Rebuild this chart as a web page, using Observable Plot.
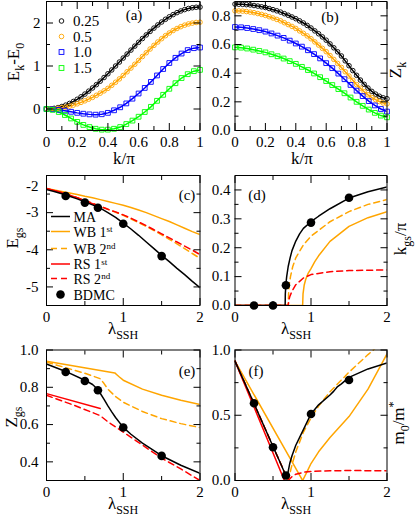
<!DOCTYPE html>
<html><head><meta charset="utf-8">
<script src="https://cdn.jsdelivr.net/npm/d3@7"></script>
<script src="https://cdn.jsdelivr.net/npm/@observablehq/plot@0.6"></script>
<style>
html,body{margin:0;padding:0;background:#fff;}
#root{position:relative;width:415px;height:518px;overflow:hidden;background:#fff;}
#root svg{position:absolute;}
#root svg text{font-family:"Liberation Serif","Times New Roman",serif;}
</style></head><body><div id="root"></div>
<script>
// ---------- data: panel (a) and (b) ----------
const kC = [0,0.025,0.05,0.075,0.1,0.125,0.15,0.175,0.2,0.225,0.25,0.275,0.3,0.325,0.35,0.375,0.4,0.425,0.45,0.475,0.5,0.525,0.55,0.575,0.6,0.625,0.65,0.675,0.7,0.725,0.75,0.775,0.8,0.825,0.85,0.875,0.9,0.925,0.95,0.975,1];
const kS = [0,0.04,0.08,0.12,0.16,0.2,0.24,0.28,0.32,0.36,0.4,0.44,0.48,0.52,0.56,0.6,0.64,0.68,0.72,0.76,0.8,0.84,0.88,0.92,0.96,1];
const aE025 = [0,0.004,0.015,0.033,0.058,0.090,0.129,0.175,0.226,0.284,0.347,0.415,0.489,0.566,0.647,0.732,0.819,0.908,1.000,1.092,1.185,1.278,1.370,1.462,1.551,1.638,1.723,1.804,1.881,1.955,2.023,2.086,2.144,2.195,2.241,2.280,2.312,2.337,2.355,2.366,2.370];
const aE05 = [0,0.002,0.007,0.016,0.029,0.045,0.065,0.090,0.120,0.154,0.190,0.229,0.270,0.318,0.368,0.422,0.480,0.550,0.622,0.700,0.780,0.865,0.952,1.040,1.130,1.220,1.308,1.395,1.480,1.558,1.635,1.705,1.768,1.825,1.872,1.915,1.950,1.978,1.998,2.012,2.018];
const aE10 = [0,-0.005,-0.02,-0.04,-0.065,-0.09,-0.11,-0.125,-0.132,-0.122,-0.09,-0.03,0.04,0.13,0.24,0.36,0.49,0.63,0.78,0.93,1.07,1.19,1.29,1.37,1.415,1.43];
const aE15 = [0,-0.02,-0.07,-0.14,-0.22,-0.30,-0.37,-0.42,-0.46,-0.48,-0.48,-0.46,-0.42,-0.35,-0.27,-0.18,-0.07,0.05,0.19,0.33,0.47,0.60,0.72,0.81,0.88,0.91];
const bZ025 = [0.882,0.881,0.880,0.878,0.876,0.872,0.868,0.863,0.858,0.851,0.843,0.835,0.826,0.815,0.804,0.792,0.780,0.765,0.750,0.733,0.715,0.695,0.675,0.653,0.630,0.604,0.577,0.549,0.520,0.486,0.452,0.418,0.385,0.352,0.322,0.296,0.273,0.254,0.239,0.228,0.222];
const bZ05 = [0.835,0.834,0.833,0.830,0.826,0.822,0.816,0.810,0.803,0.794,0.785,0.775,0.765,0.752,0.739,0.726,0.712,0.695,0.678,0.660,0.640,0.618,0.596,0.573,0.550,0.523,0.496,0.468,0.440,0.410,0.380,0.350,0.320,0.295,0.270,0.249,0.230,0.215,0.202,0.192,0.186];
const bZ10 = [0.722,0.720,0.715,0.708,0.700,0.690,0.677,0.662,0.646,0.627,0.607,0.585,0.560,0.533,0.503,0.470,0.435,0.397,0.358,0.318,0.278,0.240,0.205,0.175,0.150,0.132];
const bZ15 = [0.580,0.578,0.572,0.564,0.555,0.545,0.532,0.518,0.502,0.484,0.465,0.444,0.422,0.398,0.372,0.345,0.317,0.289,0.260,0.230,0.200,0.172,0.146,0.123,0.104,0.092];
const lambdaLegend = ["0.25", "0.5", "1.0", "1.5"];

// ---------- data: panels (c)-(f), x = lambda_SSH ----------
const lamB = [0.25,0.5,0.67,1.0,1.5];          // BDMC points
const lamC = [0,0.1,0.2,0.3,0.4,0.5,0.6,0.7,0.8,0.9,1.0,1.1,1.2,1.3,1.4,1.5,1.6,1.7,1.8,1.9,2.0];
const cMA  = [-2.38,-2.43,-2.49,-2.56,-2.63,-2.71,-2.79,-2.88,-3.00,-3.13,-3.28,-3.44,-3.61,-3.79,-3.97,-4.15,-4.32,-4.50,-4.67,-4.85,-5.02];
const cWB1 = [-2.35,-2.39,-2.43,-2.47,-2.51,-2.56,-2.60,-2.65,-2.70,-2.75,-2.80,-2.86,-2.93,-3.00,-3.08,-3.16,-3.24,-3.33,-3.42,-3.51,-3.59];
const cWB2 = [-2.35,-2.41,-2.47,-2.53,-2.60,-2.68,-2.75,-2.83,-2.91,-2.99,-3.07,-3.17,-3.27,-3.37,-3.48,-3.60,-3.72,-3.84,-3.97,-4.10,-4.23];
const cRS2 = [-2.35,-2.41,-2.47,-2.53,-2.60,-2.68,-2.75,-2.83,-2.91,-2.98,-3.06,-3.15,-3.25,-3.35,-3.46,-3.57,-3.68,-3.79,-3.90,-4.01,-4.13];
const lamC1 = [0,0.1,0.2,0.3,0.4,0.5,0.6,0.7];
const cRS1 = [-2.35,-2.40,-2.46,-2.53,-2.60,-2.68,-2.76,-2.85];
const cBD  = [-2.55,-2.73,-2.87,-3.30,-4.17];

const dMA_l  = [0,0.66,0.662,0.67,0.68,0.70,0.725,0.75,0.8,0.85,0.9,1.0,1.1,1.25,1.5,1.75,2.0];
const dMA    = [0,0,0.04,0.075,0.10,0.135,0.165,0.19,0.223,0.248,0.267,0.29,0.309,0.335,0.372,0.394,0.41];
const dWB2_l = [0,0.70,0.705,0.715,0.73,0.76,0.8,0.9,1.0,1.25,1.5,1.75,2.0];
const dWB2   = [0,0,0.04,0.075,0.10,0.135,0.165,0.21,0.24,0.29,0.325,0.35,0.367];
const dWB1_l = [0,0.89,0.895,0.91,0.93,0.96,1.0,1.05,1.1,1.25,1.5,1.75,2.0];
const dWB1   = [0,0,0.04,0.07,0.09,0.11,0.128,0.152,0.172,0.222,0.274,0.304,0.325];
const dRS2_l = [0,0.70,0.71,0.72,0.75,0.8,0.9,1.0,1.25,1.5,2.0];
const dRS2   = [0,0,0.02,0.03,0.05,0.072,0.095,0.107,0.117,0.121,0.123];
const dRS1_l = [0,0.7];
const dRS1   = [0,0];
const dBD    = [0,0,0.07,0.287,0.373];

const eMA_l  = [0,0.25,0.5,0.6,0.67,0.7,0.75,0.8,0.85,0.9,1.0,1.1,1.25,1.5,1.75,2.0];
const eMA    = [0.925,0.885,0.838,0.815,0.788,0.768,0.735,0.70,0.668,0.638,0.585,0.548,0.50,0.433,0.382,0.338];
const eWB1_l = [0,0.89,0.92,0.95,1.0,1.25,1.5,1.75,2.0];
const eWB1   = [0.94,0.877,0.866,0.855,0.838,0.79,0.757,0.73,0.708];
const eWB2_l = [0,0.25,0.5,0.7,0.75,0.8,0.9,1.0,1.25,1.5,1.75,2.0];
const eWB2   = [0.935,0.905,0.875,0.846,0.82,0.79,0.75,0.72,0.67,0.632,0.605,0.584];
const eRS1_l = [0,0.7];
const eRS1   = [0.766,0.686];
const eRS2_l = [0,0.35,0.7,0.8,1.0,1.25,1.5,1.75,2.0];
const eRS2   = [0.757,0.705,0.648,0.615,0.56,0.49,0.42,0.362,0.30];
const eBD    = [0.882,0.834,0.784,0.584,0.432];

const fMA_l  = [0,0.25,0.5,0.6,0.66,0.68,0.7,0.72,0.75,0.8,0.9,1.0,1.1,1.25,1.3,1.35,1.4,1.5,1.75,2.0];
const fMA    = [0.915,0.59,0.26,0.13,0.05,0.015,0.07,0.13,0.19,0.27,0.39,0.51,0.58,0.655,0.685,0.72,0.74,0.79,0.855,0.9];
const fRS1_l = [0,0.65];
const fRS1   = [0.915,0.0];
const fRS2_l = [0,0.7,0.75,0.8,0.9,1.0,1.25,1.5,2.0];
const fRS2   = [0.915,0.0,0.03,0.048,0.063,0.07,0.075,0.076,0.075];
const fWB1_l = [0,0.89,0.95,1.0,1.1,1.25,1.5,1.75,2.0];
const fWB1   = [0.915,0.0,0.07,0.13,0.22,0.33,0.49,0.70,0.97];
const fWB2_l = [0,0.7,0.72,0.75,0.8,0.9,1.0,1.1,1.25,1.5,1.75,1.82,1.9];
const fWB2   = [0.915,0.0,0.05,0.12,0.22,0.37,0.48,0.57,0.68,0.83,0.965,1.0,1.04];
const fBD    = [0.592,0.255,0.038,0.51,0.77];

// ---------- styling ----------
const FONT = '"Liberation Serif", "Times New Roman", serif';
const ORANGE = "#ffa500", RED = "#ff0000", BLUE = "#0000ff", GREEN = "#00ff00";
const DASH = "6,4";
const TICKFS = 15;
const root = document.getElementById("root");

function pts(xs, ys) { return xs.map((x, i) => ({x, y: ys[i]})); }
function ln(xs, ys, stroke, dash) {
  return Plot.line(pts(xs, ys), {x: "x", y: "y", stroke, strokeWidth: 1.5, strokeDasharray: dash, clip: true});
}
function bdmc(ys) { return Plot.dot(pts(lamB, ys), {x: "x", y: "y", r: 4.3, fill: "black", stroke: "none"}); }

function panel(o) {
  const mL = o.fx0 - o.left, mR = o.left + o.width - o.fx1;
  const mT = o.fy0 - o.top, mB = o.top + o.height - o.fy1;
  const ticks = [];
  for (const a of ["bottom", "top"]) {
    ticks.push(Plot.axisX({anchor: a, ticks: o.xMaj, tickSize: -7, fill: "none", label: null}));
    ticks.push(Plot.axisX({anchor: a, ticks: o.xMin, tickSize: -4, fill: "none", label: null}));
  }
  for (const a of ["left", "right"]) {
    ticks.push(Plot.axisY({anchor: a, ticks: o.yMaj, tickSize: -7, fill: "none", label: null}));
    ticks.push(Plot.axisY({anchor: a, ticks: o.yMin, tickSize: -4, fill: "none", label: null}));
  }
  const labs = [
    Plot.axisX({anchor: "bottom", ticks: o.xMaj, tickSize: 0, tickPadding: 6, tickFormat: o.xFmt, label: null, fontSize: TICKFS, fontFamily: FONT, fontVariant: "normal"}),
    Plot.axisY({anchor: "left", ticks: o.yLab || o.yMaj, tickSize: 0, tickPadding: o.yPad, tickFormat: o.yFmt, label: null, fontSize: TICKFS, fontFamily: FONT, fontVariant: "normal"})
  ];
  if (o.extraY) labs.push(o.extraY);
  const svg = Plot.plot({
    width: o.width, height: o.height,
    marginLeft: mL, marginRight: mR, marginTop: mT, marginBottom: mB,
    x: {domain: o.xDom}, y: {domain: o.yDom},
    style: {fontSize: TICKFS + "px", background: "transparent", overflow: "visible", color: "black"},
    marks: [...o.marks, Plot.frame({stroke: "black", strokeWidth: 1}), ...ticks, ...labs]
  });
  svg.setAttribute("font-family", FONT);
  svg.style.fontFamily = FONT;
  svg.querySelectorAll("text, g").forEach(el => {
    el.setAttribute("font-family", FONT);
    el.style.fontFamily = FONT;
    el.style.fontVariant = "normal";
  });
  svg.style.left = o.left + "px";
  svg.style.top = o.top + "px";
  root.appendChild(svg);
}

const fmtK = d => (d === 0 ? "0" : d === 1 ? "1" : d.toFixed(1));
const fmt1 = d => d.toFixed(1);
const fmtI = d => String(d);
const L = {left: 0, width: 205, fx0: 46, fx1: 199.5};
const R = {left: 205, width: 210, fx0: 234.5, fx1: 386.5};
const R1 = {top: 0, height: 170, fy0: 1, fy1: 130};
const R2 = {top: 170, height: 175, fy0: 175, fy1: 305};
const R3 = {top: 345, height: 173, fy0: 349.5, fy1: 480};
const kTicks = {xDom: [0, 1], xMaj: [0, 0.2, 0.4, 0.6, 0.8, 1], xMin: [0.1, 0.3, 0.5, 0.7, 0.9], xFmt: fmtK};
const lTicks = {xDom: [0, 2], xMaj: [0, 1, 2], xMin: [0.5, 1.5], xFmt: fmtI};

// (a)
panel({...L, ...R1, ...kTicks, yDom: [-0.5, 2.5], yMaj: [0, 1, 2], yMin: [0.5, 1.5], yFmt: fmtI, yPad: 6,
  marks: [
    ln(kC, aE025, "black"), ln(kC, aE05, ORANGE), ln(kS, aE10, BLUE), ln(kS, aE15, GREEN),
    Plot.dot(pts(kC, aE025), {x: "x", y: "y", r: 2.3, stroke: "black", strokeWidth: 0.9}),
    Plot.dot(pts(kC, aE05), {x: "x", y: "y", r: 2.3, stroke: ORANGE, strokeWidth: 0.9}),
    Plot.dot(pts(kS, aE10), {x: "x", y: "y", r: 2.7, symbol: "square", stroke: BLUE, strokeWidth: 0.9}),
    Plot.dot(pts(kS, aE15), {x: "x", y: "y", r: 2.7, symbol: "square", stroke: GREEN, strokeWidth: 0.9})
  ]});
// (b)
panel({...R, ...R1, ...kTicks, yDom: [0, 0.9], yMaj: [0, 0.2, 0.4, 0.6, 0.8], yMin: [0.1, 0.3, 0.5, 0.7], yFmt: fmt1, yPad: 4.5,
  marks: [
    ln(kC, bZ025, "black"), ln(kC, bZ05, ORANGE), ln(kS, bZ10, BLUE), ln(kS, bZ15, GREEN),
    Plot.dot(pts(kC, bZ025), {x: "x", y: "y", r: 2.3, stroke: "black", strokeWidth: 0.9}),
    Plot.dot(pts(kC, bZ05), {x: "x", y: "y", r: 2.3, stroke: ORANGE, strokeWidth: 0.9}),
    Plot.dot(pts(kS, bZ10), {x: "x", y: "y", r: 2.7, symbol: "square", stroke: BLUE, strokeWidth: 0.9}),
    Plot.dot(pts(kS, bZ15), {x: "x", y: "y", r: 2.7, symbol: "square", stroke: GREEN, strokeWidth: 0.9})
  ]});
// (c)
panel({...L, ...R2, ...lTicks, yDom: [-5.5, -2], yMaj: [-2, -3, -4, -5], yLab: [-3, -4, -5], yMin: [-2.5, -3.5, -4.5], yFmt: fmtI, yPad: 8,
  extraY: Plot.axisY({anchor: "left", ticks: [-2], tickSize: 0, tickPadding: 8, tickFormat: fmtI, label: null, fontSize: TICKFS, fontFamily: FONT, dy: 11}),
  marks: [
    ln(lamC, cWB1, ORANGE), ln(lamC, cWB2, ORANGE, DASH), ln(lamC1, cRS1, RED), ln(lamC, cRS2, RED, DASH),
    ln(lamC, cMA, "black"), bdmc(cBD)
  ]});
// (d)
panel({...R, ...R2, ...lTicks, yDom: [0, 0.45], yMaj: [0, 0.1, 0.2, 0.3, 0.4], yMin: [0.05, 0.15, 0.25, 0.35], yFmt: fmt1, yPad: 4.5,
  marks: [
    ln(dWB1_l, dWB1, ORANGE), ln(dWB2_l, dWB2, ORANGE, DASH), ln(dRS1_l, dRS1, RED), ln(dRS2_l, dRS2, RED, DASH),
    ln(dMA_l, dMA, "black"), bdmc(dBD)
  ]});
// (e)
panel({...L, ...R3, ...lTicks, yDom: [0.3, 1.0], yMaj: [0.4, 0.6, 0.8, 1.0], yMin: [0.5, 0.7, 0.9], yFmt: fmt1, yPad: 8,
  marks: [
    ln(eWB1_l, eWB1, ORANGE), ln(eWB2_l, eWB2, ORANGE, DASH), ln(eRS1_l, eRS1, RED), ln(eRS2_l, eRS2, RED, DASH),
    ln(eMA_l, eMA, "black"), bdmc(eBD)
  ]});
// (f)
panel({...R, ...R3, ...lTicks, yDom: [0, 1], yMaj: [0, 0.5, 1], yMin: [0.25, 0.75], yFmt: fmt1, yPad: 4.5,
  marks: [
    ln(fWB1_l, fWB1, ORANGE), ln(fWB2_l, fWB2, ORANGE, DASH), ln(fRS1_l, fRS1, RED), ln(fRS2_l, fRS2, RED, DASH),
    ln(fMA_l, fMA, "black"), bdmc(fBD)
  ]});

// ---------- text overlay: axis titles, panel tags, legends ----------
const ov = d3.select(root).append("svg").attr("width", 415).attr("height", 518)
  .style("left", "0px").style("top", "0px").style("font-family", FONT).style("overflow", "visible");

function rich(x, y, parts, {size = 17, anchor = "middle", rotate = 0, supShift = 0.42, supSize = 0.7} = {}) {
  const t = ov.append("text")
    .attr("transform", `translate(${x},${y})` + (rotate ? ` rotate(${rotate})` : ""))
    .attr("text-anchor", anchor).attr("font-size", size).attr("fill", "black");
  let shift = 0;
  for (const p of parts) {
    const [str, kind] = Array.isArray(p) ? p : [p, null];
    const target = kind === "sub" ? size * 0.3 : kind === "sup" ? -size * supShift : 0;
    t.append("tspan").attr("dy", (target - shift).toFixed(2))
      .attr("font-size", kind === "sup" ? Math.round(size * supSize) : kind ? Math.round(size * 0.7) : size).text(str);
    shift = target;
  }
  return t;
}

// axis titles
rich(19, 62, ["E", ["k", "sub"], "-E", ["0", "sub"]], {rotate: -90});
rich(124, 164, ["k/π"]);
rich(302, 164, ["k/π"]);
rich(401, 70, ["Z", ["k", "sub"]], {rotate: -90});
rich(18, 238, ["E", ["gs", "sub"]], {rotate: -90});
rich(123, 334, ["λ", ["SSH", "sub"]]);
rich(296, 334, ["λ", ["SSH", "sub"]]);
rich(406, 239, ["k", ["gs", "sub"], "/π"], {rotate: -90});
rich(17, 417, ["Z", ["gs", "sub"]], {rotate: -90});
rich(123, 509, ["λ", ["SSH", "sub"]]);
rich(296, 509, ["λ", ["SSH", "sub"]]);
rich(404, 423, ["m", ["0", "sub"], "/m", ["*", "sup"]], {rotate: -90});

// panel tags
rich(134, 20, ["(a)"], {size: 15});
rich(330, 22, ["(b)"], {size: 15});
rich(187, 200, ["(c)"], {size: 15});
rich(257, 200, ["(d)"], {size: 15});
rich(187, 376, ["(e)"], {size: 15});
rich(256, 376, ["(f)"], {size: 15});

// legend (a)
const legA = [
  {c: "black", s: "circle", y: 21}, {c: ORANGE, s: "circle", y: 36.5},
  {c: BLUE, s: "square", y: 52}, {c: GREEN, s: "square", y: 68}
];
legA.forEach((d, i) => {
  if (d.s === "circle") ov.append("circle").attr("cx", 61.5).attr("cy", d.y).attr("r", 2.3).attr("fill", "none").attr("stroke", d.c).attr("stroke-width", 0.9);
  else ov.append("rect").attr("x", 61.5 - 2.4).attr("y", d.y - 2.4).attr("width", 4.8).attr("height", 4.8).attr("fill", "none").attr("stroke", d.c).attr("stroke-width", 0.9);
  rich(73, d.y + 5, [lambdaLegend[i]], {size: 15, anchor: "start"});
});

// legend (c)
const legC = [
  {c: "black", dash: null, y: 216.5, parts: ["MA"]},
  {c: ORANGE, dash: null, y: 231.5, parts: ["WB 1", ["st", "sup"]]},
  {c: ORANGE, dash: DASH, y: 248.5, parts: ["WB 2", ["nd", "sup"]]},
  {c: RED, dash: null, y: 264, parts: ["RS 1", ["st", "sup"]]},
  {c: RED, dash: DASH, y: 278.5, parts: ["RS 2", ["nd", "sup"]]},
  {c: "black", dot: true, y: 294.5, parts: ["BDMC"]}
];
legC.forEach(d => {
  if (d.dot) ov.append("circle").attr("cx", 60.5).attr("cy", d.y).attr("r", 4.3).attr("fill", "black");
  else ov.append("line").attr("x1", 51).attr("x2", 70).attr("y1", d.y).attr("y2", d.y)
    .attr("stroke", d.c).attr("stroke-width", 1.5).attr("stroke-dasharray", d.dash);
  rich(73.5, d.y + 5, d.parts, {size: 14, anchor: "start", supShift: 0.32, supSize: 0.62});
});
</script>
</body></html>
